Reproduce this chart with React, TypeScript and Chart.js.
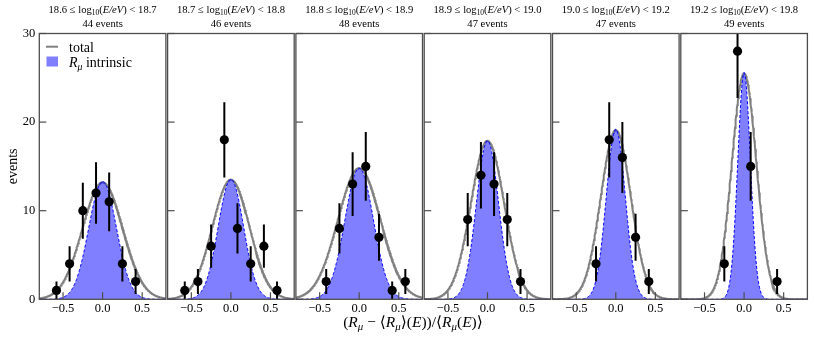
import React, { useEffect, useRef } from 'react';
import { Chart, registerables } from 'chart.js';

Chart.register(...registerables);

// ---- data ----
const binLow = ['18.6', '18.7', '18.8', '18.9', '19.0', '19.2'];
const binHigh = ['18.7', '18.8', '18.9', '19.0', '19.2', '19.8'];
const eventCounts = [44, 46, 48, 47, 47, 49];

const binCenters = [-0.583, -0.417, -0.25, -0.083, 0.083, 0.25, 0.417, 0.583];

const countsP1 = [1, 4, 10, 12, 11, 4, 2, null];
const countsP2 = [1, 2, 6, 18, 8, 4, 6, 1];
const countsP3 = [null, 2, 8, 13, 15, 7, 1, 2];
const countsP4 = [null, null, 9, 14, 13, 9, 2, null];
const countsP5 = [null, null, 4, 18, 16, 7, 2, null];
const countsP6 = [null, null, 4, 28, 15, null, 2, null];

const errP1 = [1.0, 2.0, 3.16, 3.46, 3.32, 2.0, 1.41, null];
const errP2 = [1.0, 1.41, 2.45, 4.24, 2.83, 2.0, 2.45, 1.0];
const errP3 = [null, 1.41, 2.83, 3.61, 3.87, 2.65, 1.0, 1.41];
const errP4 = [null, null, 3.0, 3.74, 3.61, 3.0, 1.41, null];
const errP5 = [null, null, 2.0, 4.24, 4.0, 2.65, 1.41, null];
const errP6 = [null, null, 2.0, 5.29, 3.87, null, 1.41, null];

const panelCounts = [countsP1, countsP2, countsP3, countsP4, countsP5, countsP6];
const panelErrors = [errP1, errP2, errP3, errP4, errP5, errP6];

// fitted Gaussian model parameters (peak height, width)
const totalPeak = [13.2, 13.5, 14.8, 17.9, 19.1, 25.5];
const totalSigma = [0.255, 0.235, 0.27, 0.21, 0.19, 0.155];
const intrinsicPeak = [13.3, 13.55, 14.8, 17.9, 19.2, 25.6];
const intrinsicSigma = [0.175, 0.16, 0.18, 0.14, 0.12, 0.08];

const xTicks = [-0.5, 0, 0.5];
const yTicks = [0, 10, 20, 30];

// ---- layout ----
const W = 814;
const H = 341;
const panelLeft = [39.3, 167.6, 295.9, 424.2, 552.5, 680.8];
const panelW = 126.6;
const plotTop = 33.5;
const plotBottom = 299.3;
const xAxisH = 20;

const FONT = '"Liberation Serif", "DejaVu Serif", serif';
const FRAME = '#4d4d4d';

type Seg = { t: string; it?: boolean; sub?: boolean };

function drawRich(ctx: CanvasRenderingContext2D, segs: Seg[], x: number, y: number, size: number, align: 'center' | 'left') {
  const fontFor = (s: Seg) => `${s.it ? 'italic ' : ''}${s.sub ? size * 0.7 : size}px ${FONT}`;
  let w = 0;
  for (const s of segs) {
    ctx.font = fontFor(s);
    w += ctx.measureText(s.t).width;
  }
  let cx = align === 'center' ? x - w / 2 : x;
  ctx.textBaseline = 'alphabetic';
  ctx.textAlign = 'left';
  for (const s of segs) {
    ctx.font = fontFor(s);
    ctx.fillText(s.t, cx, y + (s.sub ? size * 0.25 : 0));
    cx += ctx.measureText(s.t).width;
  }
}

function gaussCurve(peak: number, sigma: number) {
  const pts: { x: number; y: number }[] = [];
  for (let k = 0; k <= 320; k++) {
    const x = -0.8 + k * 0.005;
    pts.push({ x, y: peak * Math.exp(-(x * x) / (2 * sigma * sigma)) });
  }
  return pts;
}

function makeChart(canvas: HTMLCanvasElement, i: number) {
  const counts = panelCounts[i];
  const errs = panelErrors[i];
  const points = binCenters
    .map((x, k) => ({ x, y: counts[k] as number | null, e: errs[k] as number | null }))
    .filter((p) => p.y !== null);

  const panelPlugin = {
    id: 'panelDeco' + i,
    beforeDatasetDraw(chart: any, args: any) {
      if (args.index !== 0) return;
      const ctx = chart.ctx;
      const xs = chart.scales.x;
      const ys = chart.scales.y;
      const a = chart.chartArea;
      ctx.save();
      ctx.beginPath();
      ctx.rect(a.left, a.top, a.right - a.left, a.bottom - a.top);
      ctx.clip();
      ctx.strokeStyle = '#000';
      ctx.lineWidth = 2;
      for (const p of points) {
        const px = xs.getPixelForValue(p.x);
        ctx.beginPath();
        ctx.moveTo(px, ys.getPixelForValue((p.y as number) - (p.e as number)));
        ctx.lineTo(px, ys.getPixelForValue((p.y as number) + (p.e as number)));
        ctx.stroke();
      }
      ctx.restore();
    },
    afterDatasetsDraw(chart: any) {
      const ctx = chart.ctx;
      const xs = chart.scales.x;
      const ys = chart.scales.y;
      const a = chart.chartArea;
      ctx.save();
      ctx.strokeStyle = FRAME;
      ctx.lineWidth = 1.2;
      for (const v of xTicks) {
        const px = xs.getPixelForValue(v);
        ctx.beginPath();
        ctx.moveTo(px, a.bottom);
        ctx.lineTo(px, a.bottom - 7);
        ctx.stroke();
      }
      for (const v of yTicks) {
        const py = ys.getPixelForValue(v);
        ctx.beginPath();
        ctx.moveTo(a.left, py);
        ctx.lineTo(a.left + 7, py);
        ctx.stroke();
      }
      ctx.lineWidth = 1.3;
      ctx.strokeRect(a.left, a.top, a.right - a.left, a.bottom - a.top);
      ctx.restore();
    },
    afterDraw(chart: any) {
      const ctx = chart.ctx;
      const a = chart.chartArea;
      const cx = (a.left + a.right) / 2;
      ctx.save();
      ctx.fillStyle = '#000';
      drawRich(ctx, [
        { t: `${binLow[i]} ≤ log` },
        { t: '10', sub: true },
        { t: '(' },
        { t: 'E/eV', it: true },
        { t: `) < ${binHigh[i]}` },
      ], cx, 12.8, 10.6, 'center');
      drawRich(ctx, [{ t: `${eventCounts[i]} events` }], cx, 26.7, 10.6, 'center');
      if (i === 0) {
        // legend
        ctx.strokeStyle = '#808080';
        ctx.lineWidth = 2;
        ctx.beginPath();
        ctx.moveTo(46, 46.7);
        ctx.lineTo(58, 46.7);
        ctx.stroke();
        ctx.fillStyle = 'rgba(0,0,255,0.5)';
        ctx.fillRect(46.5, 56.5, 11.5, 10);
        ctx.fillStyle = '#000';
        drawRich(ctx, [{ t: 'total' }], 69, 51.5, 14, 'left');
        drawRich(ctx, [{ t: 'R', it: true }, { t: 'μ', it: true, sub: true }, { t: ' intrinsic' }], 69, 66.5, 14, 'left');
        // shared x label
        drawRich(ctx, [
          { t: '(' }, { t: 'R', it: true }, { t: 'μ', it: true, sub: true }, { t: ' − ⟨' },
          { t: 'R', it: true }, { t: 'μ', it: true, sub: true }, { t: '⟩(' }, { t: 'E', it: true },
          { t: '))/⟨' }, { t: 'R', it: true }, { t: 'μ', it: true, sub: true }, { t: '(' },
          { t: 'E', it: true }, { t: ')⟩' },
        ], 413, 326.5, 15.5, 'center');
      }
      ctx.restore();
    },
  };

  return new Chart(canvas, {
    type: 'scatter',
    data: {
      datasets: [
        {
          type: 'scatter',
          label: 'data',
          data: points.map((p) => ({ x: p.x, y: p.y as number })),
          pointRadius: 4.6,
          pointBackgroundColor: '#000',
          pointBorderColor: '#000',
          pointBorderWidth: 0,
          order: 0,
        },
        {
          type: 'line',
          label: 'Rμ intrinsic',
          data: gaussCurve(intrinsicPeak[i], intrinsicSigma[i]),
          borderColor: '#0000ff',
          borderWidth: 1,
          borderDash: [3, 2],
          backgroundColor: 'rgba(0,0,255,0.5)',
          fill: 'origin',
          pointRadius: 0,
          tension: 0,
          order: 1,
        },
        {
          type: 'line',
          label: 'total',
          data: gaussCurve(totalPeak[i], totalSigma[i]),
          borderColor: '#808080',
          borderWidth: 2,
          fill: false,
          pointRadius: 0,
          tension: 0,
          order: 2,
        },
      ] as any,
    },
    options: {
      responsive: false,
      animation: false,
      events: [],
      layout: {
        padding: {
          left: i === 0 ? 0 : panelLeft[i],
          right: W - panelLeft[i] - panelW,
          top: plotTop,
          bottom: H - plotBottom - xAxisH,
        },
      },
      plugins: {
        legend: { display: false },
        tooltip: { enabled: false },
        title: { display: false },
      },
      scales: {
        x: {
          type: 'linear',
          min: -0.8,
          max: 0.8,
          afterBuildTicks: (s: any) => {
            s.ticks = xTicks.map((v) => ({ value: v }));
          },
          afterFit: (s: any) => {
            s.height = xAxisH;
          },
          ticks: {
            callback: (v: any) => Number(v).toFixed(1).replace('-', '−'),
            font: { family: FONT, size: 12.5 },
            color: '#000',
            padding: 2,
            maxRotation: 0,
            autoSkip: false,
          },
          grid: { display: false, drawTicks: false },
          border: { display: false },
        },
        y: {
          type: 'linear',
          min: 0,
          max: 30,
          afterBuildTicks: (s: any) => {
            s.ticks = yTicks.map((v) => ({ value: v }));
          },
          afterFit: (s: any) => {
            s.width = i === 0 ? panelLeft[0] : 0;
          },
          ticks: {
            display: i === 0,
            font: { family: FONT, size: 12.5 },
            color: '#000',
            padding: 4,
          },
          title: {
            display: i === 0,
            text: 'events',
            font: { family: FONT, size: 14 },
            color: '#000',
            padding: { top: 5, bottom: 0 },
          },
          grid: { display: false, drawTicks: false },
          border: { display: false },
        },
      },
    } as any,
    plugins: [panelPlugin],
  });
}

export default function App() {
  const refs = useRef<(HTMLCanvasElement | null)[]>([]);
  useEffect(() => {
    const charts = refs.current.map((c, i) => (c ? makeChart(c, i) : null));
    return () => {
      charts.forEach((c) => c && c.destroy());
    };
  }, []);
  return (
    <div style={{ position: 'fixed', left: 0, top: 0, width: W, height: H, background: '#fff' }}>
      {panelLeft.map((_, i) => (
        <canvas
          key={i}
          ref={(el) => {
            refs.current[i] = el;
          }}
          width={W}
          height={H}
          style={{ position: 'absolute', left: 0, top: 0, width: W, height: H }}
        />
      ))}
    </div>
  );
}
